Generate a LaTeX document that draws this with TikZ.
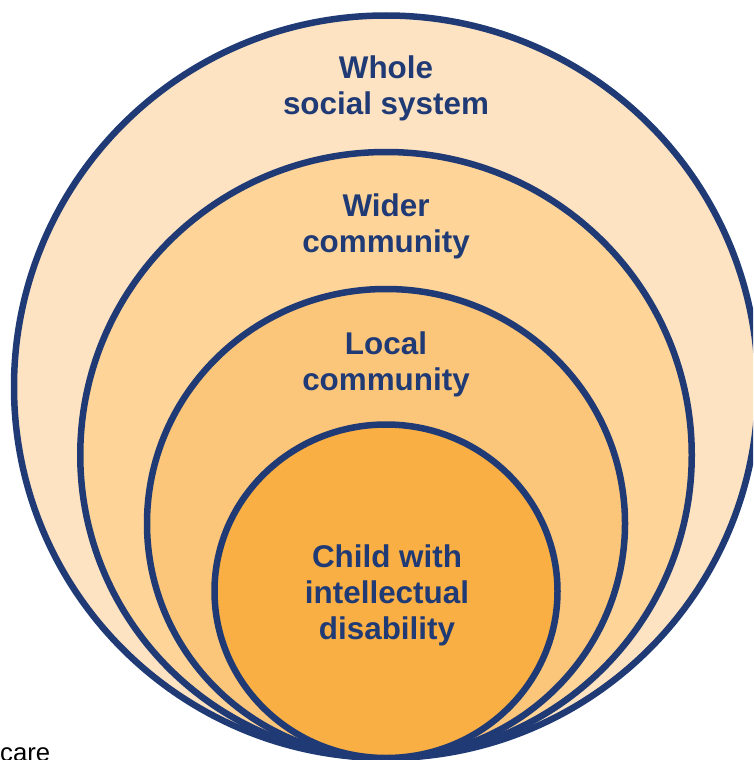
\documentclass[tikz,border=0pt]{standalone}
\usepackage{fontspec}
\setmainfont{Liberation Sans}

\definecolor{ringline}{HTML}{1F3A74}
\definecolor{ringA}{HTML}{FDE3C2}
\definecolor{ringB}{HTML}{FED498}
\definecolor{ringC}{HTML}{FCC67A}
\definecolor{ringD}{HTML}{F9AF43}

\begin{document}
\begin{tikzpicture}[x=1pt, y=-1pt,
 ring/.style={draw=ringline, line width=6.5pt},
 ringlabel/.style={text=ringline, align=center, inner sep=0pt,
   font=\fontsize{31.4}{36}\selectfont\bfseries}
]

\useasboundingbox (0,0) rectangle (753,760);
\path [clip] (0,0) rectangle (753,760);

% rings, drawn from the outside in; they all touch at the bottom
\def\midx{386}
\def\bottom{758}
\foreach \rx/\ry/\col in {372/371.25/ringA, 305.75/303/ringB,
                          239/234.5/ringC, 171.5/166.75/ringD} {
 \path [ring, fill=\col] (\midx,\bottom-\ry) ellipse [x radius=\rx, y radius=\ry];
}

% one label per ring
\node (whole) [ringlabel] at (\midx,88) {Whole\\social system};
\node (wider) [ringlabel] at (\midx,226) {Wider\\community};
\node (local) [ringlabel] at (\midx,364) {Local\\community};
\node (child) [ringlabel] at (387,595) {Child with\\intellectual\\disability};

% stray word at the lower edge, cut by the frame
\node (care) [anchor=base west, inner sep=0pt, font=\fontsize{25.7}{30}\selectfont]
 at (0,761) {care};

\end{tikzpicture}
\end{document}
